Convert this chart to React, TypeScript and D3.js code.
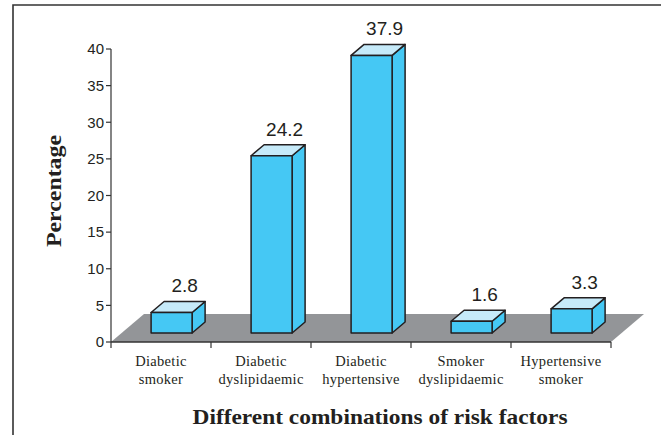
import React from "react";
import * as d3 from "d3";

// Risk factor combinations (two-line labels) and their percentages
const categoryLine1 = ["Diabetic", "Diabetic", "Diabetic", "Smoker", "Hypertensive"];
const categoryLine2 = ["smoker", "dyslipidaemic", "hypertensive", "dyslipidaemic", "smoker"];
const percentages = [2.8, 24.2, 37.9, 1.6, 3.3];
const yTicks = [0, 5, 10, 15, 20, 25, 30, 35, 40];

const W = 661;
const H = 435;

export default function App() {
  const keys = categoryLine1.map((c, i) => `${c} ${categoryLine2[i]}`);

  const y = d3.scaleLinear().domain([0, 40]).range([342, 49]);
  const x = d3.scaleBand<string>().domain(keys).range([111, 611]).paddingInner(0).paddingOuter(0);

  // floor depth and the plane the bars stand in
  const floorDx = 33;
  const floorDy = -28;
  const planeDx = 10.6;
  const planeDy = -9;
  const barDx = 13;
  const barDy = -11;
  const barW = 41;

  const [x0, x1] = x.range();
  const floor = [
    [x0, y(0)],
    [x1, y(0)],
    [x1 + floorDx, y(0) + floorDy],
    [x0 + floorDx, y(0) + floorDy],
  ];

  const stroke = "#231f20";
  const front = "#45c8f4";
  const top = "#c6eaf9";
  const side = "#45c8f4";

  return (
    <svg
      width={W}
      height={H}
      viewBox={`0 0 ${W} ${H}`}
      style={{ position: "fixed", left: 0, top: 0, background: "#fff" }}
    >
      {/* frame */}
      <path d={`M13,${H + 5} V5 H${W + 5}`} fill="none" stroke="#333" strokeWidth={1.6} />

      {/* floor */}
      <polygon points={floor.map((p) => p.join(",")).join(" ")} fill="#939598" />

      {/* y axis */}
      <line x1={x0} x2={x0} y1={y(40)} y2={y(0)} stroke="#333" strokeWidth={1.2} />
      {yTicks.map((t) => (
        <g key={t}>
          <line x1={x0 - 5} x2={x0} y1={y(t)} y2={y(t)} stroke="#333" strokeWidth={1.2} />
          <text
            x={x0 - 7}
            y={y(t)}
            dy="0.35em"
            textAnchor="end"
            fontFamily="Liberation Sans, Arial, sans-serif"
            fontSize={15}
            fill="#231f20"
          >
            {t}
          </text>
        </g>
      ))}

      {/* x axis */}
      <line x1={x0} x2={x1} y1={y(0)} y2={y(0)} stroke="#333" strokeWidth={1.4} />
      {[...keys.map((k) => x(k) as number), x1].map((bx, i) => (
        <line key={i} x1={bx} x2={bx} y1={y(0)} y2={y(0) + 6} stroke="#333" strokeWidth={1.2} />
      ))}

      {/* bars */}
      {keys.map((k, i) => {
        const v = percentages[i];
        const bandStart = (x(k) as number) + planeDx;
        const fx0 = bandStart + (x.bandwidth() - barW) / 2;
        const fx1 = fx0 + barW;
        const fyB = y(0) + planeDy;
        const fyT = y(v) + planeDy;
        const frontPts = [
          [fx0, fyT],
          [fx1, fyT],
          [fx1, fyB],
          [fx0, fyB],
        ];
        const topPts = [
          [fx0, fyT],
          [fx0 + barDx, fyT + barDy],
          [fx1 + barDx, fyT + barDy],
          [fx1, fyT],
        ];
        const sidePts = [
          [fx1, fyT],
          [fx1 + barDx, fyT + barDy],
          [fx1 + barDx, fyB + barDy],
          [fx1, fyB],
        ];
        const pts = (p: number[][]) => p.map((q) => q.join(",")).join(" ");
        return (
          <g key={k} strokeLinejoin="round">
            <polygon points={pts(sidePts)} fill={side} stroke={stroke} strokeWidth={1.5} />
            <polygon points={pts(topPts)} fill={top} stroke={stroke} strokeWidth={1.5} />
            <polygon points={pts(frontPts)} fill={front} stroke={stroke} strokeWidth={1.5} />
            <text
              x={fx0 + barDx + barW / 2}
              y={fyT + barDy - 9}
              textAnchor="middle"
              fontFamily="Liberation Sans, Arial, sans-serif"
              fontSize={19}
              fill="#231f20"
            >
              {v.toFixed(1)}
            </text>
          </g>
        );
      })}

      {/* category labels */}
      {keys.map((k, i) => {
        const cx = (x(k) as number) + x.bandwidth() / 2;
        return (
          <text
            key={k}
            textAnchor="middle"
            fontFamily="Liberation Serif, Times New Roman, serif"
            fontSize={14.5}
            letterSpacing={0.3}
            fill="#231f20"
          >
            <tspan x={cx} y={366}>
              {categoryLine1[i]}
            </tspan>
            <tspan x={cx} y={384}>
              {categoryLine2[i]}
            </tspan>
          </text>
        );
      })}

      {/* axis titles */}
      <text
        transform={`translate(61,191) rotate(-90)`}
        textAnchor="middle"
        fontFamily="Liberation Serif, Times New Roman, serif"
        fontWeight="bold"
        fontSize={21}
        textLength={112}
        lengthAdjust="spacingAndGlyphs"
        fill="#231f20"
      >
        Percentage
      </text>
      <text
        x={380}
        y={424}
        textAnchor="middle"
        fontFamily="Liberation Serif, Times New Roman, serif"
        fontWeight="bold"
        fontSize={21}
        textLength={375}
        lengthAdjust="spacingAndGlyphs"
        fill="#231f20"
      >
        Different combinations of risk factors
      </text>
    </svg>
  );
}
